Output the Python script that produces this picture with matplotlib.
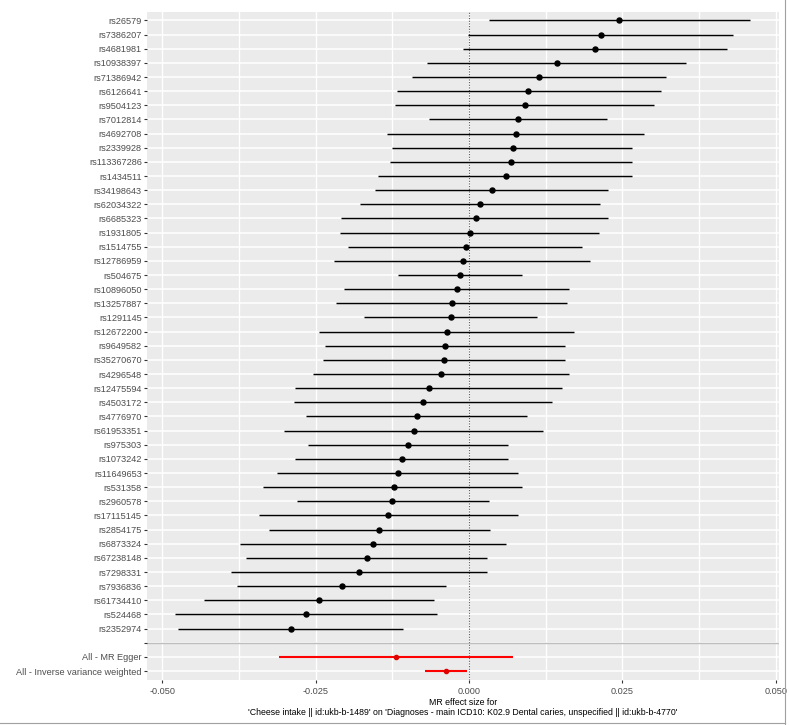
import numpy as np
import matplotlib.pyplot as plt
from matplotlib.lines import Line2D

plt.rcParams['font.family'] = ['Liberation Sans', 'DejaVu Sans']

# SNP-level estimates
snps = ['rs26579', 'rs7386207', 'rs4681981', 'rs10938397', 'rs71386942', 'rs6126641',
        'rs9504123', 'rs7012814', 'rs4692708', 'rs2339928', 'rs113367286', 'rs1434511',
        'rs34198643', 'rs62034322', 'rs6685323', 'rs1931805', 'rs1514755', 'rs12786959',
        'rs504675', 'rs10896050', 'rs13257887', 'rs1291145', 'rs12672200', 'rs9649582',
        'rs35270670', 'rs4296548', 'rs12475594', 'rs4503172', 'rs4776970', 'rs61953351',
        'rs975303', 'rs1073242', 'rs11649653', 'rs531358', 'rs2960578', 'rs17115145',
        'rs2854175', 'rs6873324', 'rs67238148', 'rs7298331', 'rs7936836', 'rs61734410',
        'rs524468', 'rs2352974']
b = [0.0245, 0.0215, 0.0205, 0.0144, 0.0114, 0.0097, 0.0091, 0.0080, 0.0076, 0.0071,
     0.0069, 0.0060, 0.0038, 0.0018, 0.0011, 0.0001, -0.0005, -0.0009, -0.0015, -0.0020,
     -0.0028, -0.0029, -0.0036, -0.0039, -0.0040, -0.0045, -0.0066, -0.0075, -0.0085,
     -0.0090, -0.0100, -0.0110, -0.0116, -0.0123, -0.0125, -0.0132, -0.0146, -0.0157,
     -0.0166, -0.0179, -0.0207, -0.0244, -0.0265, -0.0290]
lo = [0.0032, -0.0001, -0.0009, -0.0069, -0.0093, -0.0118, -0.0120, -0.0065, -0.0134,
      -0.0126, -0.0128, -0.0149, -0.0154, -0.0178, -0.0209, -0.0210, -0.0197, -0.0220,
      -0.0115, -0.0203, -0.0217, -0.0171, -0.0245, -0.0235, -0.0238, -0.0255, -0.0284,
      -0.0285, -0.0266, -0.0302, -0.0263, -0.0284, -0.0313, -0.0336, -0.0280, -0.0343,
      -0.0326, -0.0373, -0.0363, -0.0388, -0.0378, -0.0432, -0.0479, -0.0475]
hi = [0.0458, 0.0430, 0.0420, 0.0354, 0.0322, 0.0313, 0.0302, 0.0225, 0.0285, 0.0266,
      0.0265, 0.0266, 0.0227, 0.0214, 0.0227, 0.0212, 0.0184, 0.0198, 0.0087, 0.0163,
      0.0160, 0.0111, 0.0171, 0.0157, 0.0156, 0.0163, 0.0151, 0.0136, 0.0094, 0.0120,
      0.0063, 0.0063, 0.0080, 0.0087, 0.0032, 0.0080, 0.0034, 0.0060, 0.0029, 0.0029,
      -0.0038, -0.0057, -0.0052, -0.0107]

# summary methods
methods = ['All - MR Egger', 'All - Inverse variance weighted']
m_b = [-0.0119, -0.0037]
m_lo = [-0.0309, -0.0072]
m_hi = [0.0072, -0.0003]

xticks = [-0.050, -0.025, 0.000, 0.025, 0.050]
xlab = ("MR effect size for\n'Cheese intake || id:ukb-b-1489' on 'Diagnoses - main ICD10: "
        "K02.9 Dental caries, unspecified || id:ukb-b-4770'")

labels = snps + [''] + methods
n = len(labels)
y_snp = np.arange(len(snps))
y_sep = len(snps)
y_m = np.arange(len(snps) + 1, n)

fig = plt.figure(figsize=(7.89, 7.25), dpi=100)
ax = fig.add_axes([147/789, 1 - 679.5/725, (779-147)/789, (679.5-12)/725])
ax.set_facecolor('#EBEBEB')
for s in ax.spines.values():
    s.set_visible(False)

ax.set_xlim(-0.0525, 0.05055)
ax.set_ylim(n - 1 + 0.6, -0.6)

# grid
for x in np.arange(-0.05, 0.051, 0.0125):
    ax.axvline(x, color='white', lw=1.0, zorder=0)
for y in range(n):
    ax.axhline(y, color='white', lw=1.1, zorder=0)

ax.axvline(0, color='#555555', lw=0.8, ls=(0, (1, 1.4)), zorder=1)
ax.axhline(y_sep, color='#BEBEBE', lw=1.0, zorder=1)

ax.hlines(y_snp, lo, hi, color='black', lw=1.05, zorder=2)
ax.plot(b, y_snp, 'o', color='black', ms=3.6, zorder=3)
ax.hlines(y_m, m_lo, m_hi, color='#FF0000', lw=1.5, zorder=2)
ax.plot(m_b, y_m, 'o', color='#E00000', ms=3.0, zorder=3)

ax.set_yticks(range(n))
ax.set_yticklabels(labels)
ax.set_xticks(xticks)
ax.set_xticklabels(['%.3f' % v for v in xticks])
ax.tick_params(axis='both', colors='#333333', labelcolor='#4D4D4D', labelsize=6.6,
               length=2.2, width=0.8)
ax.tick_params(axis='y', pad=1.5)
ax.tick_params(axis='x', pad=3.5)
ax.set_xlabel(xlab, fontsize=6.35, color='black', labelpad=1.0, linespacing=1.2)

# screenshot borders
fig.add_artist(Line2D([785/789, 785/789], [0, 1], color='#A0A0A0', lw=0.8))
fig.add_artist(Line2D([0, 785/789], [1 - 722.5/725, 1 - 722.5/725], color='#A0A0A0', lw=0.8))

fig.savefig('out.png', dpi=100)
